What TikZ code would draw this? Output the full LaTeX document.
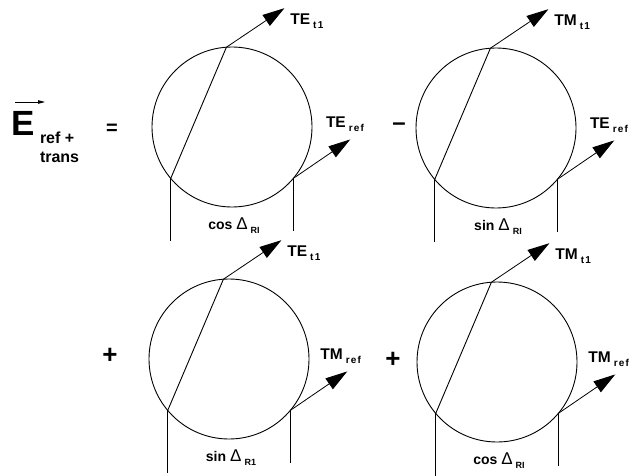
\documentclass[tikz,border=0pt]{standalone}
\usepackage{fontspec}
\setmainfont{Liberation Sans}
\usetikzlibrary{arrows.meta,calc}
\newcommand\lbltxt[2]{{\fontsize{15.5}{15}\selectfont\bfseries #1}\hspace{3pt}\raisebox{-4pt}{\fontsize{10}{10}\selectfont\bfseries\addfontfeatures{LetterSpace=12}#2}}
\newcommand\trigtxt[2]{{\fontsize{14}{14}\selectfont\bfseries #1}\hspace{4pt}{\fontsize{17}{17}\selectfont Δ}\hspace{3pt}\raisebox{-4pt}{\fontsize{9}{9}\selectfont\bfseries #2}}
\newcommand\panel[6]{%
  \node[ring] (#1) at (#2) {};
  \coordinate (#1-tt) at ($(#1.94)+(58,39)$);
  \coordinate (#1-rt) at ($(#1.320)+(57,39)$);
  \coordinate (#1-lb) at ($(#1.220)+(0,-63)$);
  \coordinate (#1-rb) at ($(#1.320)+(0,-53)$);
  \draw[wire] (#1.94) -- (#1.220);
  \draw[vec] (#1.94) -- (#1-tt);
  \draw[vec] (#1.320) -- (#1-rt);
  \draw[wire] (#1.220) -- (#1-lb);
  \draw[wire] (#1.320) -- (#1-rb);
  \node[txt,anchor=base west] (#1-tl) at ($(#1-tt)+(6,-16)$) {\lbltxt{#3}{t1}};
  \node[txt,anchor=base east] (#1-rl) at ($(#1)+(132,0)$) {\lbltxt{#4}{ref}};
  \node[txt,anchor=base] (#1-bl) at ($(#1)+(2,-102)$) {\trigtxt{#5}{#6}};
}
\begin{document}
\begin{tikzpicture}[x=1pt,y=1pt,
  ring/.style={circle,draw,minimum size=160pt,inner sep=0pt,outer sep=0pt,line width=0.9pt},
  vec/.style={line width=0.8pt,-{Triangle[length=22pt,width=13pt]}},
  wire/.style={line width=0.9pt},
  txt/.style={inner sep=0pt,outer sep=0pt},
  op/.style={inner sep=0pt,outer sep=0pt,font=\bfseries}]
\useasboundingbox (0,0) rectangle (639,475);
% left-hand side
\node[txt,anchor=base west] (E) at (11,340) {\fontsize{35}{35}\selectfont\bfseries E};
\coordinate (ea) at (15,373);
\coordinate (eb) at (45,373);
\draw[line width=0.8pt,-{Triangle[length=7pt,width=3.5pt]}] (ea) -- (eb);
\node[txt,anchor=base west] (sub1) at (40,332) {\fontsize{16}{16}\selectfont\bfseries ref +};
\node[txt,anchor=base west] (sub2) at (40,313) {\fontsize{16}{16}\selectfont\bfseries trans};
% operators
\node[op] (eq) at (112,346) {\fontsize{20}{20}\selectfont =};
\node[op] (minus) at (399,348) {\fontsize{24}{24}\selectfont –};
\node[op] (plus1) at (110,119) {\fontsize{26}{26}\selectfont +};
\node[op] (plus2) at (393,115) {\fontsize{26}{26}\selectfont +};
% panels
\panel{c1}{232,348}{TE}{TE}{cos}{RI}
\panel{c2}{496,347}{TM}{TE}{sin}{RI}
\panel{c3}{229,116}{TE}{TM}{sin}{R1}
\panel{c4}{497,113}{TM}{TM}{cos}{RI}
\end{tikzpicture}
\end{document}
